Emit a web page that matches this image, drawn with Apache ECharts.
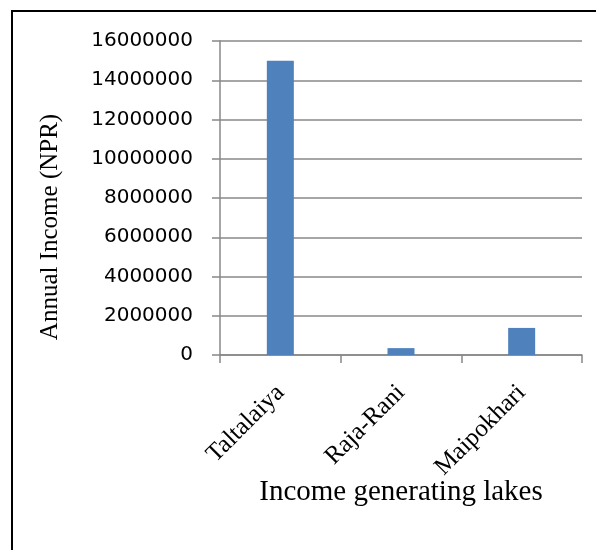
<!DOCTYPE html>
<html>
<head>
<meta charset="utf-8">
<script src="https://cdn.jsdelivr.net/npm/echarts@6/dist/echarts.min.js"></script>
<style>
  html, body { margin: 0; padding: 0; background: #fff; }
  #chart { width: 596px; height: 550px; }
</style>
</head>
<body>
<div id="chart"></div>
<script>
// Annual income of income-generating lakes (NPR)
const lakes = ['Taltalaiya', 'Raja-Rani', 'Maipokhari'];
const annualIncome = [15000000, 350000, 1380000];
const yTicks = [0, 2000000, 4000000, 6000000, 8000000, 10000000, 12000000, 14000000, 16000000];

const chart = echarts.init(document.getElementById('chart'), null, { renderer: 'canvas' });

chart.setOption({
  animation: false,
  backgroundColor: '#ffffff',
  grid: { left: 220, right: 14, top: 41, bottom: 195, containLabel: false },
  xAxis: {
    type: 'category',
    data: lakes,
    name: 'Income generating lakes',
    nameLocation: 'middle',
    nameGap: 123,
    nameMoveOverlap: false,
    nameTextStyle: { fontFamily: 'Liberation Serif', fontSize: 29, color: '#000' },
    axisLine: { lineStyle: { color: '#888888', width: 1.5 } },
    axisTick: { show: true, length: 8, lineStyle: { color: '#888888', width: 1.5 } },
    axisLabel: {
      rotate: 45,
      margin: 34,
      fontFamily: 'Liberation Serif',
      fontSize: 25,
      color: '#000'
    }
  },
  yAxis: {
    type: 'value',
    min: yTicks[0],
    max: yTicks[yTicks.length - 1],
    interval: yTicks[1] - yTicks[0],
    axisLine: { show: true, lineStyle: { color: '#888888', width: 1.5 } },
    axisTick: { show: true, length: 8, lineStyle: { color: '#888888', width: 1.5 } },
    splitLine: { show: true, lineStyle: { color: '#888888', width: 1.5 } },
    axisLabel: {
      margin: 27,
      fontFamily: 'DejaVu Sans',
      fontSize: 20,
      color: '#000',
      formatter: function (v) { return String(v); }
    }
  },
  graphic: [
    {
      type: 'rect',
      silent: true,
      shape: { x: 12, y: 11, width: 800, height: 800 },
      style: { fill: 'none', stroke: '#000', lineWidth: 2 }
    },
    {
      type: 'text',
      silent: true,
      x: 50,
      y: 227,
      rotation: Math.PI / 2,
      style: {
        text: 'Annual Income (NPR)',
        fontFamily: 'Liberation Serif',
        fontSize: 25,
        fill: '#000',
        textAlign: 'center',
        textVerticalAlign: 'middle'
      }
    }
  ],
  series: [{
    type: 'bar',
    data: annualIncome,
    barWidth: 27,
    itemStyle: { color: '#4F81BD' }
  }]
});
</script>
</body>
</html>
